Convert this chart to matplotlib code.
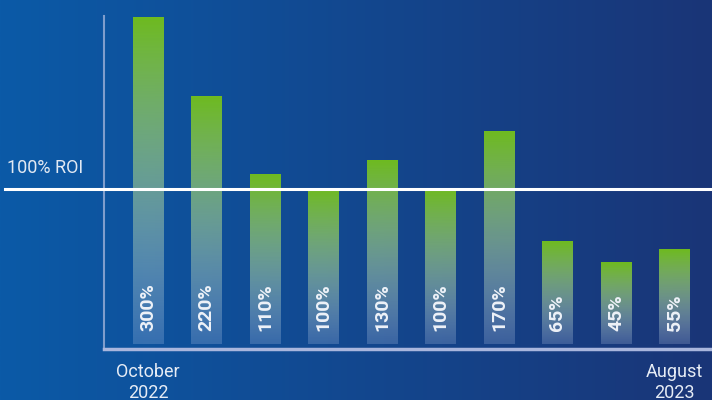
import matplotlib
matplotlib.use("Agg")
import matplotlib.pyplot as plt
from matplotlib.colors import to_rgba
import numpy as np

plt.rcParams["font.family"] = ["Roboto", "DejaVu Sans"]

# ROI labels shown on the bars, and the drawn bar heights (chart units, 100 = ROI line)
labels = ["300%", "220%", "110%", "100%", "130%", "100%", "170%", "65%", "45%", "55%"]
heights = [206.9, 157.5, 108.8, 100, 117.5, 100, 135.6, 66.9, 53.8, 61.9]
roi_level = 100
tick_pos = [0, 9]
tick_labels = ["October\n2022", "August\n2023"]

W, H = 712, 400
fig = plt.figure(figsize=(W / 100, H / 100), dpi=100)

# background gradient, left to right
bg = fig.add_axes([0, 0, 1, 1], zorder=-1)
c0 = np.array(to_rgba("#0b5aa7"))
c1 = np.array(to_rgba("#1a3577"))
t = np.linspace(0, 1, 256)
grad = (c0[None, :] * (1 - t[:, None]) + c1[None, :] * t[:, None])[None, :, :]
bg.imshow(grad, aspect="auto", extent=[0, 1, 0, 1])
bg.set_axis_off()

# main axes in pixel layout
left, right, bottom, top = 104, 712, 349, 16
ax = fig.add_axes([left / W, (H - bottom) / H, (right - left) / W, (bottom - top) / H])
ax.set_facecolor("none")

x = np.arange(len(heights))
width = 0.52
base = 3
green = np.array(to_rgba("#6fbb20"))
fade = np.array([0.85, 0.9, 1.0, 0.2])
for xi, h, lab in zip(x, heights, labels):
    s = np.linspace(0, 1, 200)[:, None]  # 0 bottom -> 1 top
    col = fade[None, :] * (1 - s) + green[None, :] * s
    img = np.repeat(col[:, None, :], 2, axis=1)
    ax.imshow(img, origin="lower", aspect="auto", zorder=2,
              extent=[xi - width / 2, xi + width / 2, base, h])
    ax.text(xi, 11.5, lab, rotation=90, ha="center", va="bottom",
            color="#eef2f8", fontsize=14, fontweight="bold", zorder=4)

ax.set_xlim(-0.752, 9.641)
ax.set_ylim(0, (bottom - top) / 1.6)

# 100% ROI line
ax.axhline(roi_level, xmin=(5 - left) / (right - left), xmax=1, color="white",
           lw=2.2, clip_on=False, zorder=3)
ax.text((7 - left) / (right - left), roi_level + 10, "100% ROI",
        transform=ax.get_yaxis_transform(), ha="left", va="baseline",
        color="#e2e9f3", fontsize=13)

for sp in ["top", "right"]:
    ax.spines[sp].set_visible(False)
ax.spines["left"].set_color("#7f9dcc")
ax.spines["left"].set_linewidth(1.5)
ax.spines["bottom"].set_color("#a9b6dd")
ax.spines["bottom"].set_linewidth(2.5)

ax.set_yticks([])
ax.set_xticks(tick_pos)
ax.set_xticklabels(tick_labels, color="#e6ecf5", fontsize=13, linespacing=1.25)
ax.tick_params(axis="x", length=0, pad=10)

fig.savefig("out.png", dpi=100)
